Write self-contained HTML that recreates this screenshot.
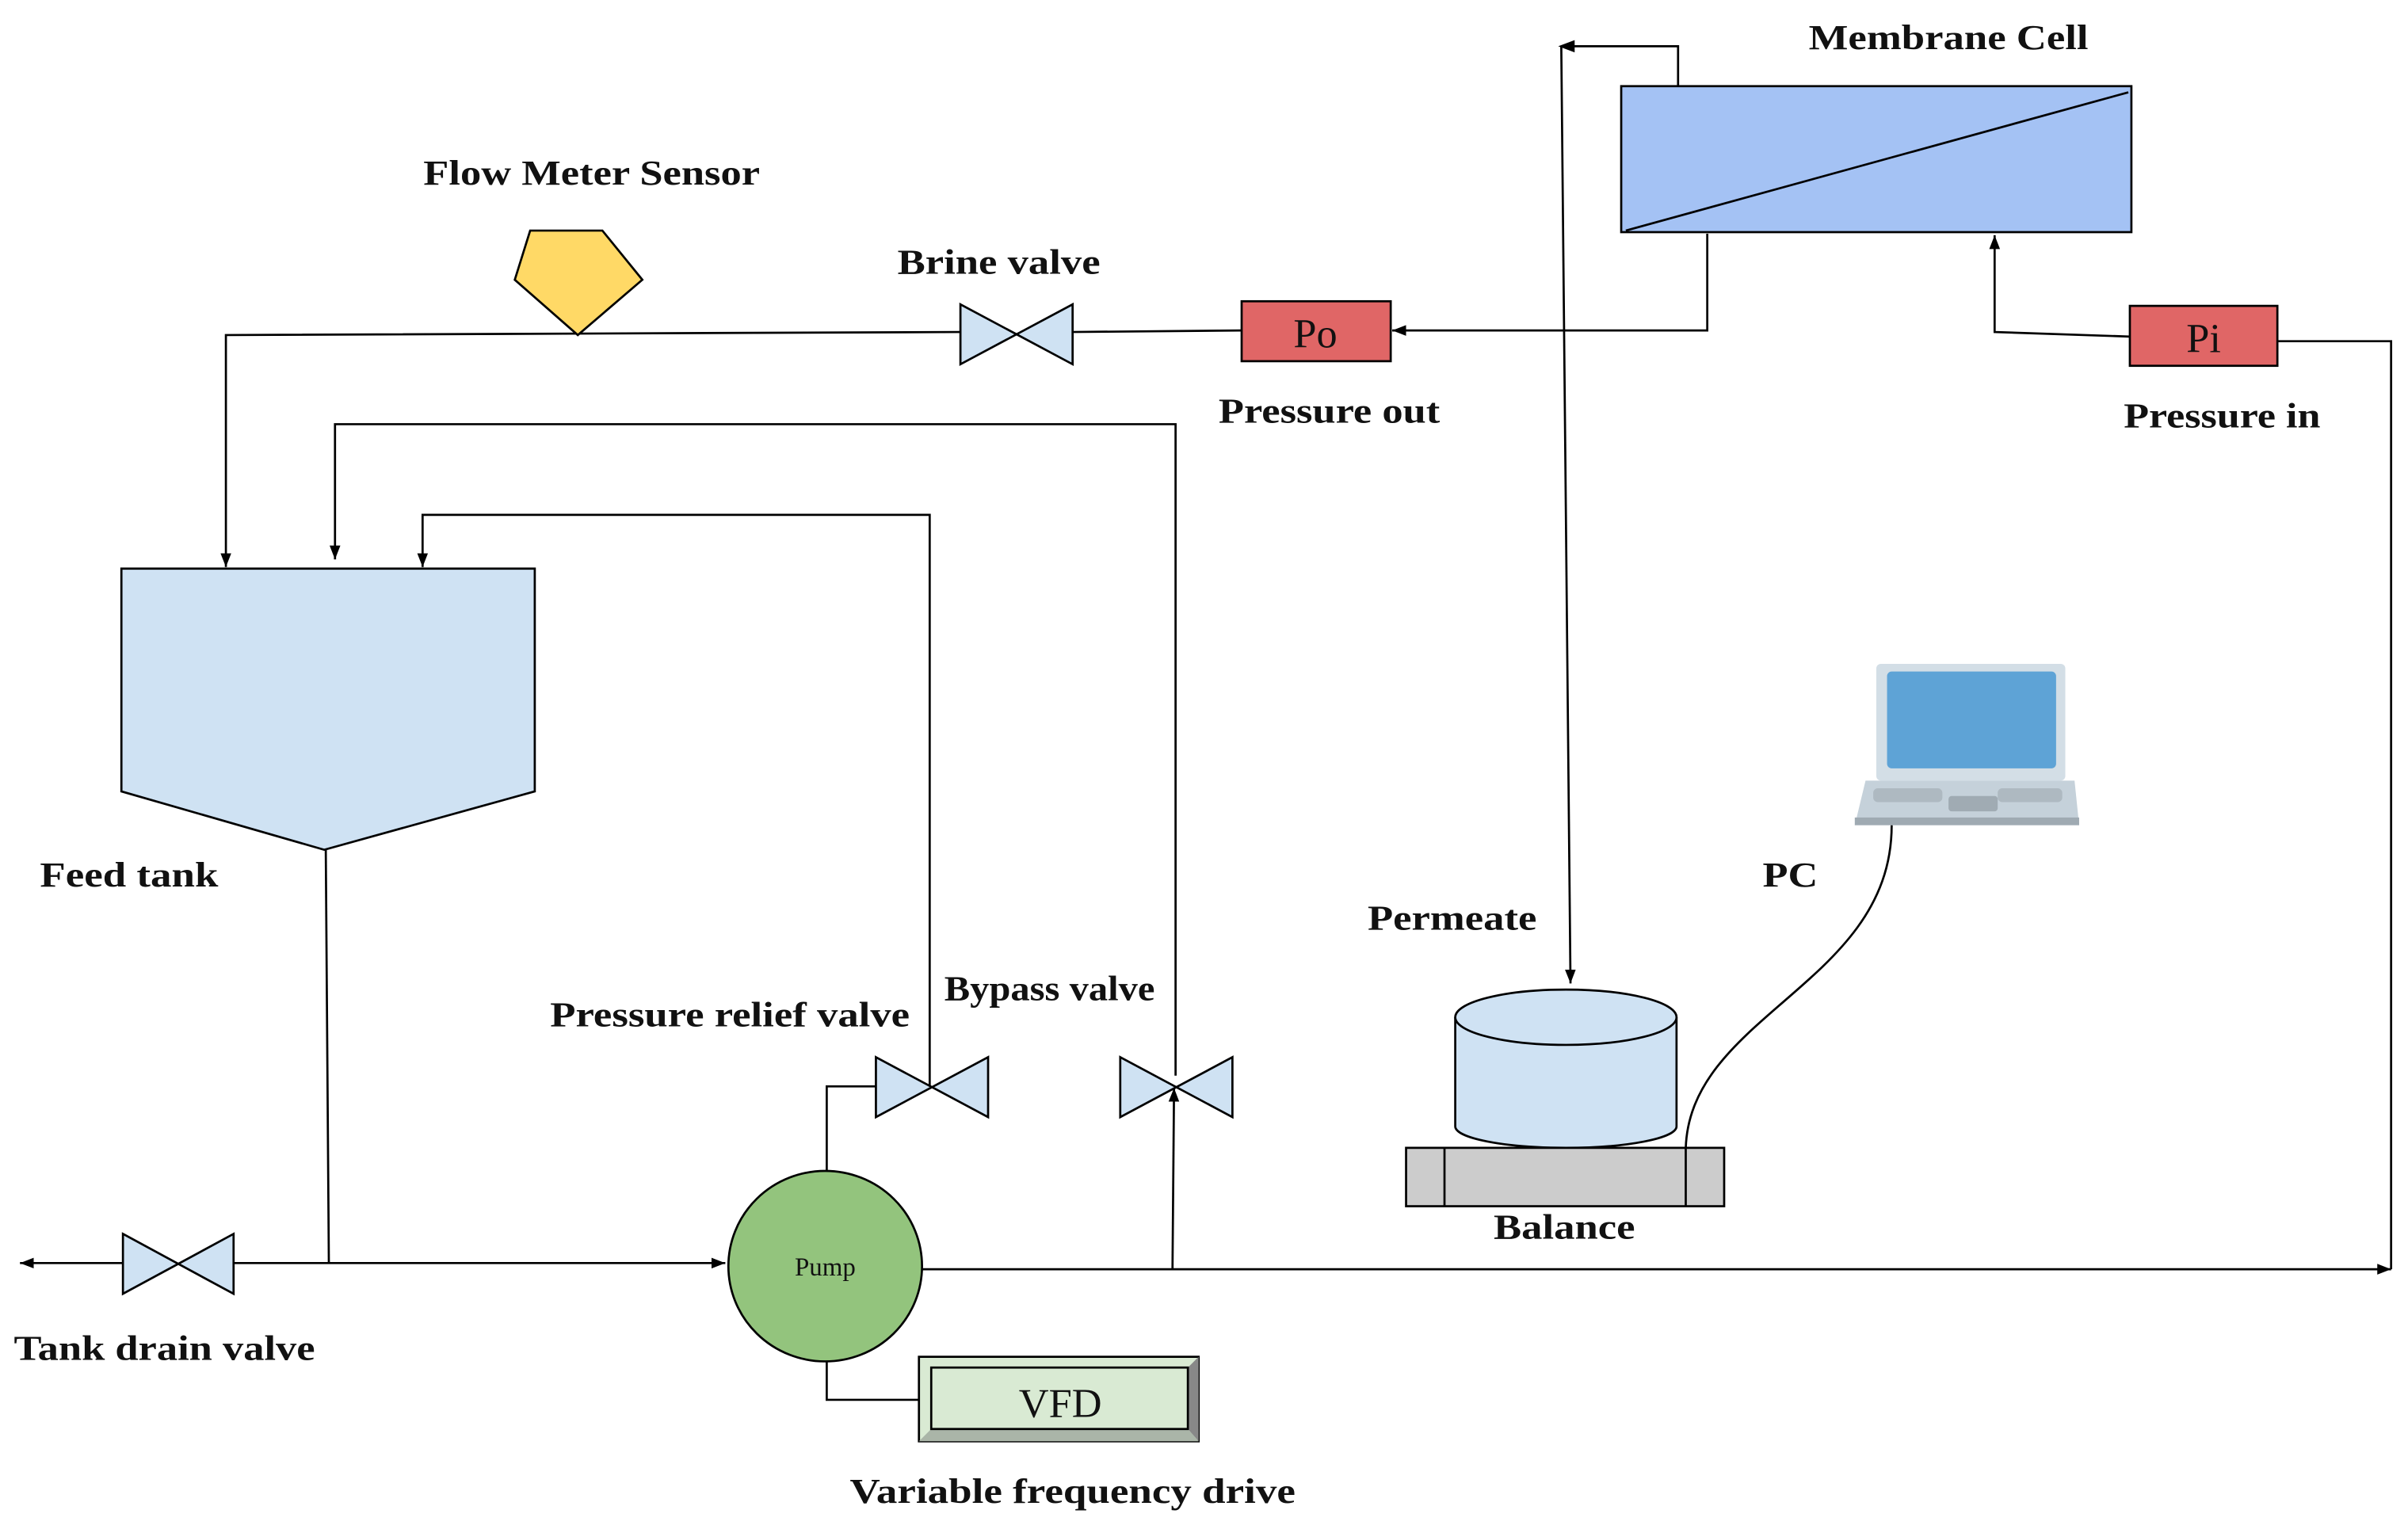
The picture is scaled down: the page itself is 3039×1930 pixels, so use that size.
<!DOCTYPE html>
<html><head><meta charset="utf-8"><style>
html,body{margin:0;padding:0;background:#fff;}
svg{display:block;}
.l{font-family:"Liberation Serif",serif;font-weight:bold;font-size:23px;fill:#111;}
.r{font-family:"Liberation Serif",serif;fill:#111;}
</style></head><body>
<svg width="3039" height="1930" viewBox="0 0 1567 995" xmlns="http://www.w3.org/2000/svg">
<defs>
<marker id="a" markerWidth="10" markerHeight="10" refX="9" refY="5" orient="auto" markerUnits="userSpaceOnUse">
<path d="M0,1.5 L9,5 L0,8.5 Z" fill="#000"/></marker>
</defs>
<rect width="1567" height="995" fill="#fff"/>
<g stroke="#000" stroke-width="1.4" fill="none">
<!-- top brine line -->
<polyline points="625,216 147,218 147,369" marker-end="url(#a)"/>
<line x1="698" y1="216" x2="808" y2="215"/>
<polyline points="1111,152 1111,215 906,215" marker-end="url(#a)"/>
<!-- bypass return -->
<polyline points="765,700 765,276 218,276 218,364" marker-end="url(#a)"/>
<!-- relief return -->
<polyline points="605,707 605,335 275,335 275,369" marker-end="url(#a)"/>
<!-- tank outlet -->
<line x1="212" y1="553" x2="214" y2="822"/>
<line x1="152" y1="822" x2="472" y2="822" marker-end="url(#a)"/>
<line x1="80" y1="822" x2="13" y2="822" marker-end="url(#a)"/>
<!-- pump to relief -->
<polyline points="538,762 538,707 570,707"/>
<!-- bypass up -->
<line x1="763" y1="826" x2="764" y2="708" marker-end="url(#a)"/>
<!-- pump to Pi -->
<line x1="600" y1="826" x2="1556" y2="826" marker-end="url(#a)"/>
<polyline points="1556,826 1556,222 1482,222"/>
<polyline points="1386,219 1298,216 1298,153" marker-end="url(#a)"/>
<!-- permeate -->
<polyline points="1092,56 1092,30 1016,30"/>
<path d="M1016,30 L1024,27 L1024,33 Z" fill="#000"/>
<line x1="1016" y1="30" x2="1022" y2="640" marker-end="url(#a)"/>
<!-- VFD -->
<polyline points="538,885 538,911 598,911"/>
<!-- PC cable -->
<path d="M1231,537 C1231,640 1100,660 1097,747"/>
</g>
<!-- flow meter -->
<polygon points="345,150 392,150 418,182 376,218 335,182" fill="#FFD966" stroke="#000" stroke-width="1.4"/>
<!-- valves -->
<g fill="#CFE2F3" stroke="#000" stroke-width="1.4">
<polygon points="625,198 698,237 698,198 625,237"/>
<polygon points="570,688 643,727 643,688 570,727"/>
<polygon points="729,688 802,727 802,688 729,727"/>
<polygon points="80,803 152,842 152,803 80,842"/>
<!-- tank -->
<polygon points="79,370 348,370 348,515 211,553 79,515"/>
</g>
<!-- Po Pi -->
<rect x="808" y="196" width="97" height="39" fill="#E06666" stroke="#000" stroke-width="1.4"/>
<text x="856" y="226" class="r" font-size="27" text-anchor="middle">Po</text>
<rect x="1386" y="199" width="96" height="39" fill="#E06666" stroke="#000" stroke-width="1.4"/>
<text x="1434" y="229" class="r" font-size="27" text-anchor="middle">Pi</text>
<!-- membrane -->
<rect x="1055" y="56" width="332" height="95" fill="#A4C2F4" stroke="#000" stroke-width="1.4"/>
<line x1="1058" y1="150" x2="1385" y2="60" stroke="#000" stroke-width="1.4"/>
<!-- pump -->
<ellipse cx="537" cy="824" rx="63" ry="62" fill="#93C47D" stroke="#000" stroke-width="1.4"/>
<text x="537" y="830" class="r" font-size="17" text-anchor="middle">Pump</text>
<!-- VFD -->
<rect x="598" y="883" width="182" height="55" fill="#D9EAD3" stroke="#000" stroke-width="1.4"/>
<polygon points="773,890 780,883 780,938 773,930" fill="#888"/>
<polygon points="606,930 773,930 780,938 598,938" fill="#AAB5A8"/>
<rect x="606" y="890" width="167" height="40" fill="#D9EAD3" stroke="#000" stroke-width="1.4"/>
<text x="690" y="922" class="r" font-size="27" text-anchor="middle">VFD</text>
<!-- cylinder -->
<path d="M947,662 L947,733 A72,14 0 0 0 1091,733 L1091,662" fill="#CFE2F3" stroke="#000" stroke-width="1.4"/>
<ellipse cx="1019" cy="662" rx="72" ry="18" fill="#CFE2F3" stroke="#000" stroke-width="1.4"/>
<!-- balance -->
<rect x="915" y="747" width="207" height="38" fill="#CCCCCC" stroke="#000" stroke-width="1.4"/>
<line x1="940" y1="747" x2="940" y2="785" stroke="#000" stroke-width="1.4"/>
<line x1="1097" y1="747" x2="1097" y2="785" stroke="#000" stroke-width="1.4"/>
<!-- laptop -->
<rect x="1221" y="432" width="123" height="76" rx="3" fill="#D3DEE6"/>
<rect x="1228" y="437" width="110" height="63" rx="3" fill="#5EA3D6"/>
<polygon points="1214,508 1350,508 1353,537 1207,537" fill="#C5D1DA"/>
<rect x="1207" y="532" width="146" height="5" fill="#9FAAB2"/>
<rect x="1219" y="513" width="45" height="9" rx="3" fill="#AEB9C1"/>
<rect x="1300" y="513" width="42" height="9" rx="3" fill="#AEB9C1"/>
<rect x="1268" y="518" width="32" height="10" rx="2" fill="#A0ABB3"/>
<!-- labels -->
<text x="385" y="120" class="l" text-anchor="middle" textLength="219" lengthAdjust="spacingAndGlyphs">Flow Meter Sensor</text>
<text x="650" y="178" class="l" text-anchor="middle" textLength="132" lengthAdjust="spacingAndGlyphs">Brine valve</text>
<text x="865" y="275" class="l" text-anchor="middle" textLength="144" lengthAdjust="spacingAndGlyphs">Pressure out</text>
<text x="1268" y="32" class="l" text-anchor="middle" textLength="182" lengthAdjust="spacingAndGlyphs">Membrane Cell</text>
<text x="1446" y="278" class="l" text-anchor="middle" textLength="128" lengthAdjust="spacingAndGlyphs">Pressure in</text>
<text x="26" y="577" class="l" textLength="116" lengthAdjust="spacingAndGlyphs">Feed tank</text>
<text x="945" y="605" class="l" text-anchor="middle" textLength="110" lengthAdjust="spacingAndGlyphs">Permeate</text>
<text x="1165" y="577" class="l" text-anchor="middle" textLength="36" lengthAdjust="spacingAndGlyphs">PC</text>
<text x="475" y="668" class="l" text-anchor="middle" textLength="234" lengthAdjust="spacingAndGlyphs">Pressure relief valve</text>
<text x="683" y="651" class="l" text-anchor="middle" textLength="137" lengthAdjust="spacingAndGlyphs">Bypass valve</text>
<text x="1018" y="806" class="l" text-anchor="middle" textLength="92" lengthAdjust="spacingAndGlyphs">Balance</text>
<text x="107" y="885" class="l" text-anchor="middle" textLength="196" lengthAdjust="spacingAndGlyphs">Tank drain valve</text>
<text x="698" y="978" class="l" text-anchor="middle" textLength="290" lengthAdjust="spacingAndGlyphs">Variable frequency drive</text>
</svg>
</body></html>
